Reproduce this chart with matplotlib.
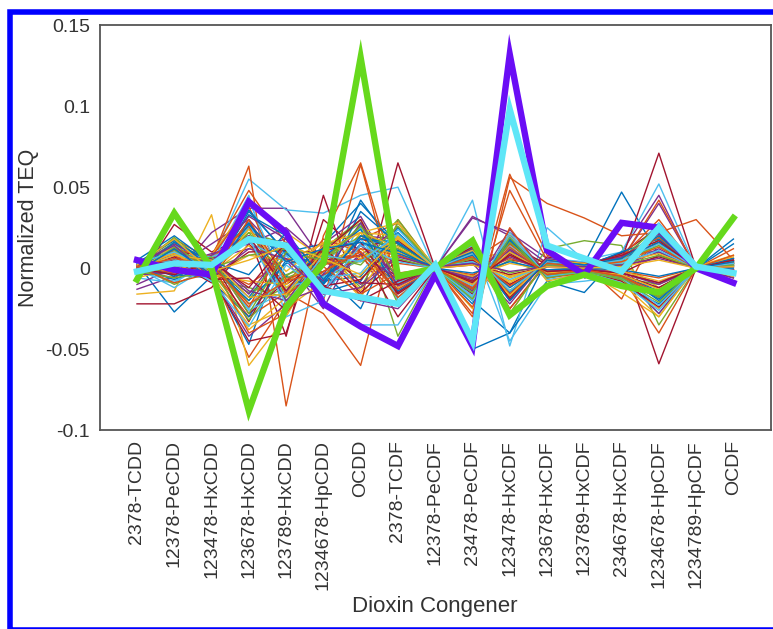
import matplotlib
matplotlib.use("Agg")
import matplotlib.pyplot as plt
from matplotlib.patches import Rectangle

plt.rcParams['font.family'] = ['Liberation Sans', 'DejaVu Sans']

congeners = ['2378-TCDD', '12378-PeCDD', '123478-HxCDD', '123678-HxCDD',
             '123789-HxCDD', '1234678-HpCDD', 'OCDD', '2378-TCDF',
             '12378-PeCDF', '23478-PeCDF', '123478-HxCDF', '123678-HxCDF',
             '123789-HxCDF', '234678-HxCDF', '1234678-HpCDF', '1234789-HpCDF',
             'OCDF']

# highlighted profiles (normalized TEQ)
green_profile = [-0.007, 0.034, 0.000, -0.088, -0.024, 0.003, 0.130, -0.005, 0.000,
                 0.017, -0.029, -0.011, -0.004, -0.011, -0.015, 0.000, 0.031]
purple_profile = [0.005, -0.001, -0.004, 0.041, 0.022, -0.022, -0.036, -0.048, -0.004,
                  -0.048, 0.132, 0.011, -0.004, 0.028, 0.025, 0.000, -0.009]
cyan_profile = [-0.002, 0.003, 0.002, 0.018, 0.014, -0.014, -0.018, -0.022, 0.002,
                -0.045, 0.098, 0.014, 0.006, -0.002, 0.025, 0.001, -0.003]

# all other sample profiles, in units of 1e-3
sample_profiles = [
    [3, -27, -5, -47, 20, -10, 42, 10, 1, -20, -40, 5, 3, 47, 8, 0, 18],
    [-4, 12, -2, -55, -20, 8, 18, 28, 0, -28, 58, 8, 2, -19, 25, 0, 12],
    [-16, -14, 33, -60, -30, 10, 22, -18, 2, 6, 10, 4, -2, -15, -30, 1, 8],
    [-13, -5, 22, 37, 37, 4, 8, 25, 0, 31, 22, 6, 0, 10, 45, -1, 4],
    [0, 14, -4, 25, -18, 12, 30, -42, 1, 18, -20, 12, 17, 14, -35, 0, 2],
    [-6, -9, 5, 55, 36, 34, 45, 50, -1, 42, -48, 25, 5, 10, 52, 0, 6],
    [-8, 27, 10, 20, -42, 45, -20, 65, 0, -5, 15, 2, 3, 5, 71, 0, -6],
    [1, 4, -2, 20, 10, 15, 40, 15, 1, -50, -40, -8, -15, 10, 10, 0, 15],
    [1, 18, 5, 63, -85, 20, 65, -10, 0, -42, 56, 40, 31, 20, 22, 30, 5],
    [2, 6, -3, 18, -8, 4, 12, -6, 0, 5, -8, 2, 1, 3, -12, 0, 2],
    [-10, 0, 15, 30, 5, -25, 20, 18, 0, 32, 20, 3, 0, 5, 40, 0, 2],
    [-3, 10, 4, -22, -12, -5, 20, 15, 1, -9, 12, -3, 0, -4, 18, 0, -3],
    [-1, 6, 3, 45, -30, -20, -35, -35, 0, 15, -45, -10, -8, -5, -28, 0, 2],
    [0, 5, -5, -45, -40, 30, 10, -30, 0, 8, -25, 3, 2, 8, -59, 0, -2],
    [1, -4, -6, 35, 10, -8, -5, 22, 0, 12, -15, 4, 2, 6, 22, -1, 4],
    [2, 10, 0, -30, -15, -28, -60, 30, 0, -30, 48, 5, 0, -5, -40, 0, 3],
    [-5, 15, 2, -38, -18, 8, 30, -12, 1, -18, 20, -5, -2, -8, -25, 1, -5],
    [0, 3, 6, 12, 18, -14, 8, 5, 0, 3, -22, 6, 3, 2, 10, 0, 6],
    [4, 12, -2, -15, -5, 12, -12, 28, 0, -6, 8, -2, -3, -6, -18, 0, -2],
    [-2, -8, 3, 28, -20, 2, 25, -18, 1, 14, -12, 3, 1, 4, 28, 0, 3],
    [-22, -22, -12, 15, -10, 5, 8, -5, 0, -8, 5, 2, 0, -3, 8, 0, -4],
    [3, 18, -8, -30, 5, -10, 15, 10, 0, -22, 18, -6, -2, -10, -22, 0, -4],
    [-2, 3, 8, 48, 15, -20, 64, -20, 0, 5, 20, -2, 1, 5, 42, 0, 3],
    [-6, 0, 8, 40, 22, 6, -18, 18, 1, 8, -28, 5, 2, 8, 15, 0, 7],
    [1, 8, -5, -42, -22, 15, 32, -8, 0, -14, 24, -4, -1, -5, -28, 1, -6],
    [2, -10, 0, 22, 15, -6, 5, 30, 0, 10, -5, 1, 3, 5, 20, 0, 1],
    [-4, 14, 5, -25, 8, -16, 28, -20, 0, -20, 14, -7, -4, -7, -15, -1, -3],
    [0, 4, -9, 30, -15, 10, 18, 12, 1, 6, -18, 7, 2, 9, 25, 0, 5],
    [5, 20, 3, -18, 12, -3, -25, 25, 0, -12, 10, -3, -1, -3, -20, 0, -1],
    [-1, -6, 7, 38, -10, 18, 10, -15, 0, 15, -25, 4, 2, 7, 30, 0, 8],
    [3, 9, -4, -35, -25, -8, 22, 20, 1, -25, 22, -8, -3, -9, -30, 1, -5],
    [-3, 2, 9, 15, 25, 5, -10, 8, 0, 9, -10, 2, 1, 2, 12, 0, 2],
    [1, 16, -7, -12, -18, 12, 28, -22, 0, -8, 5, -4, 0, -6, -10, 0, -2],
    [0, -12, 2, 25, 8, -18, 15, 18, 1, 11, -20, 6, 4, 4, 24, 0, 4],
    [-5, 11, 6, -28, -8, 8, -15, 5, 0, -16, 16, -2, -2, -8, -24, 0, -4],
    [4, -2, -2, 33, 20, -10, 35, 15, 0, 4, -14, 3, 1, 10, 18, 0, 6],
    [-2, 7, 4, -40, -28, 3, 10, -10, 0, -24, 25, -6, -3, -4, -18, 1, -1],
    [2, 13, -5, 8, 5, 15, 22, 28, 1, 7, -6, 1, 2, 3, 14, 0, 3],
    [-4, -3, 8, 20, -20, -12, -20, -25, 0, -10, 12, -3, -1, -7, -12, 0, -3],
    [1, 19, 0, -20, 15, 5, 20, 12, 0, 13, -28, 5, 3, 6, 26, 0, 5],
    [3, 4, -8, 42, -12, -5, 5, 20, 0, -18, 20, -5, -2, -9, -26, 0, -2],
    [-1, 9, 5, -33, 10, 10, 30, -15, 1, 5, -10, 2, 0, 5, 16, 0, 4],
    [0, -7, 3, 28, -5, -15, -8, 25, 0, -13, 18, -4, -2, -5, -14, 0, -3],
    [-2, 4, 1, -10, 6, -4, 6, 3, 0, -4, 6, -1, 0, -2, -6, 0, -1],
    [1, 9, -3, 14, -12, 6, -6, 10, 0, 6, -9, 3, 1, 4, 9, 0, 2],
    [-3, -2, 5, -16, 14, -8, 14, -4, 0, -7, 11, -2, -1, -3, -10, 0, -2],
    [2, 11, -1, 22, -6, 3, 4, 14, 1, 9, -14, 4, 2, 5, 14, 0, 3],
    [-1, 1, 4, -26, -14, 9, 18, -9, 0, -11, 13, -3, -1, -5, -16, 0, -3],
    [0, 7, -6, 10, 11, -11, -7, 17, 0, 2, -4, 1, 1, 1, 7, 0, 1],
    [3, -5, 2, -20, 3, 7, 24, -14, 0, -15, 17, -5, -2, -6, -19, 0, -4],
    [-4, 12, 6, 26, -16, -2, 12, 8, 1, 10, -16, 5, 2, 6, 19, 0, 4],
    [1, 2, -4, -8, -10, 14, -14, 20, 0, -5, 3, -1, 0, -2, -8, 0, -1],
    [2, 15, 3, 32, 18, -13, 9, -7, 0, 12, -20, 6, 3, 7, 21, 0, 5],
    [-2, -6, -2, -32, -4, 4, 26, 6, 0, -19, 19, -6, -2, -7, -21, 0, -3],
    [0, 8, 7, 16, 4, -6, -3, 24, 1, 4, -7, 2, 1, 3, 11, 0, 2],
    [-5, 5, -7, -6, -26, 11, 16, -16, 0, -9, 9, -3, -1, -4, -12, 0, -2],
    [3, 17, 1, 36, 9, -9, 20, 11, 0, 8, -12, 4, 2, 6, 16, 0, 3],
    [1, -3, 3, -24, 16, 1, -16, -3, 0, -13, 15, -4, -2, -5, -17, 0, -3],
    [-1, 10, -5, 24, -2, 16, 6, 18, 1, 11, -17, 5, 3, 5, 23, 0, 4],
    [2, 0, 6, -14, -20, -4, 28, -11, 0, -6, 7, -2, 0, -3, -9, 0, -1],
    [-3, 13, 0, 8, 12, 8, 2, 26, 0, 6, -3, 2, 1, 2, 8, 0, 2],
    [0, 6, -8, -36, 2, -14, 14, 4, 0, -17, 22, -5, -2, -6, -23, 0, -4],
    [4, 3, 2, 20, -14, 13, -9, -10, 1, 13, -19, 4, 2, 8, 17, 0, 5],
    [-2, 16, 4, -4, 22, -7, 18, 16, 0, -3, 4, -1, 0, -1, -5, 0, 0],
    [1, -9, -3, 30, -7, 2, 8, -18, 0, 7, -11, 3, 1, 4, 13, 0, 3],
    [-1, 8, 5, -18, -16, 10, 22, 13, 0, -10, 10, -3, -1, -4, -13, 0, -2],
    [2, 14, -6, 12, 6, -16, -12, 7, 1, 3, -2, 1, 1, 2, 6, 0, 1],
    [-4, 1, 7, -28, 10, 5, 26, -6, 0, -15, 16, -4, -2, -6, -18, 0, -3],
    [3, 10, -1, 18, -22, 8, 4, 21, 0, 9, -14, 4, 2, 5, 15, 0, 3],
    [0, -4, 4, -12, 16, -11, -20, -8, 0, -8, 8, -2, -1, -3, -9, 0, -2],
    [-2, 12, -4, 27, 4, 12, 16, 9, 1, 10, -20, 5, 2, 6, 20, 0, 4],
    [1, 6, 2, -22, -8, -2, 10, -13, 0, -12, 13, -4, -1, -5, -15, 0, -2],
    [2, 18, -2, 5, 14, 6, -4, 19, 0, 2, -5, 1, 0, 1, 5, 0, 1],
]

# MATLAB default line colours
matlab_colors = ['#0072BD', '#D95319', '#EDB120', '#7E2F8E',
                 '#77AC30', '#4DBEEE', '#A2142F']

x = list(range(1, len(congeners) + 1))

fig = plt.figure(figsize=(7.73, 6.29), dpi=100)
ax = fig.add_axes([0.129, 0.316, 0.868, 0.644])

for i, prof in enumerate(sample_profiles):
    ax.plot(x, [v / 1000 for v in prof], color=matlab_colors[i % 7], lw=1.0)

ax.plot(x, purple_profile, color='#6a0df5', lw=4.6, solid_joinstyle='miter')
ax.plot(x, green_profile, color='#66d91c', lw=4.6, solid_joinstyle='miter')
ax.plot(x, cyan_profile, color='#5ee6f7', lw=4.6, solid_joinstyle='miter')

ax.set_xlim(0, 18)
ax.set_ylim(-0.1, 0.15)
ax.set_xticks(x)
ax.set_xticklabels(congeners, rotation=90, fontsize=14, color='#333333')
ax.set_yticks([-0.1, -0.05, 0, 0.05, 0.1, 0.15])
ax.set_yticklabels(['-0.1', '-0.05', '0', '0.05', '0.1', '0.15'], fontsize=14, color='#333333')
ax.tick_params(length=0, pad=7)
for s in ax.spines.values():
    s.set_color('#555555')
    s.set_linewidth(1.3)

ax.set_xlabel('Dioxin Congener', fontsize=16, color='#333333')
ax.set_ylabel('Normalized TEQ', fontsize=15.5, color='#333333')
ax.xaxis.set_label_coords(0.5, -0.41)
ax.yaxis.set_label_coords(-0.09, 0.5)

# blue frame around the figure
fig.add_artist(Rectangle((10 / 773, 1 - 630 / 629), 800 / 773, (630 - 12.5) / 629,
                         transform=fig.transFigure, fill=False,
                         edgecolor='#0000ff', lw=4, clip_on=False))

fig.savefig('out.png', dpi=100)
